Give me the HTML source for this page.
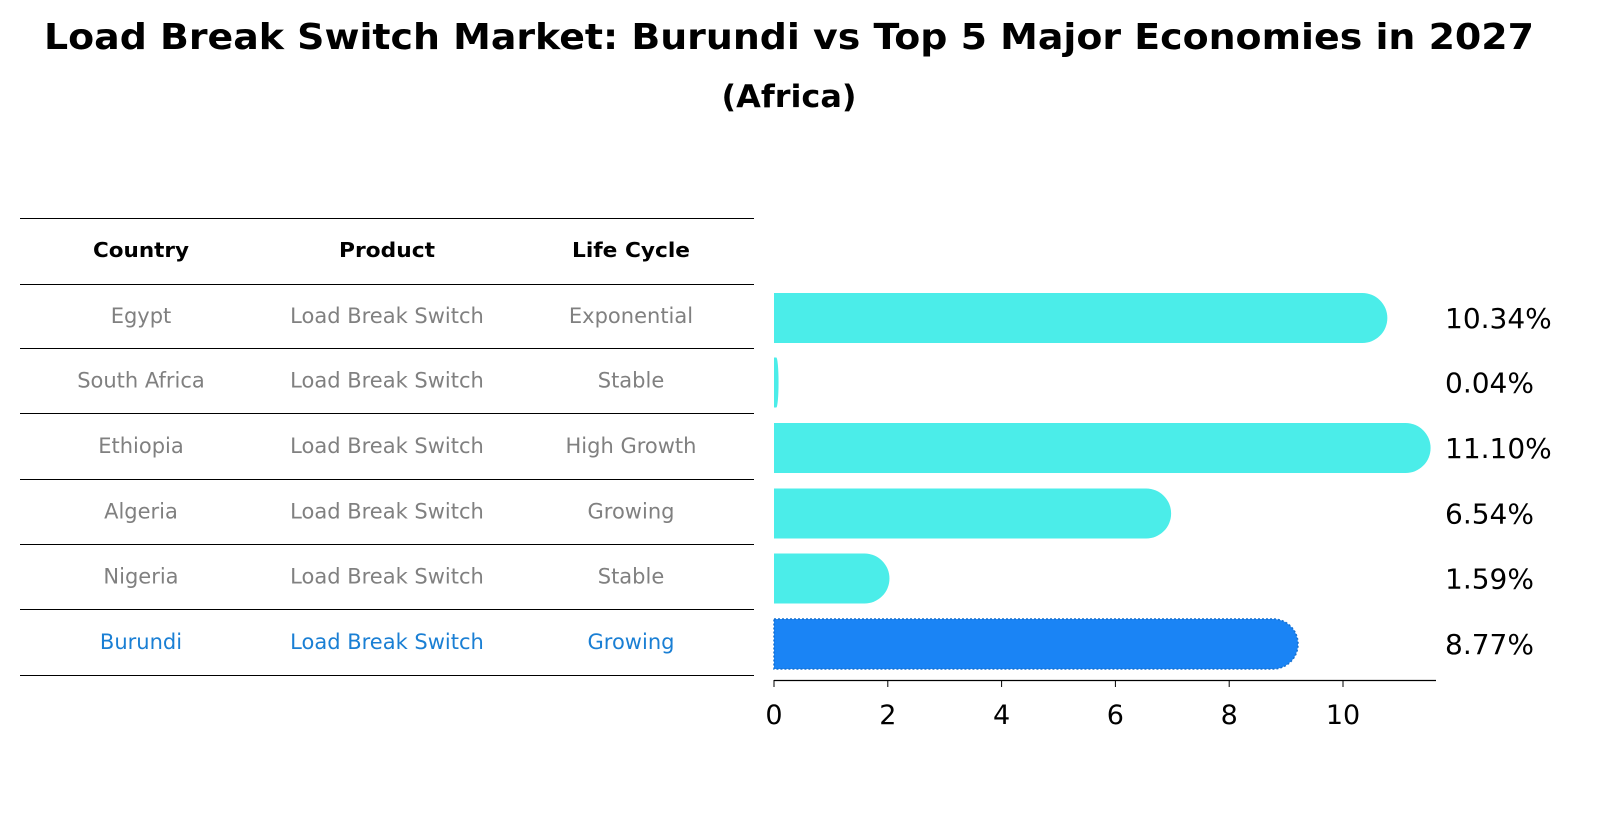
<!DOCTYPE html>
<html><head><meta charset="utf-8"><style>
html,body{margin:0;padding:0;background:#fff;overflow:hidden;width:1604px;height:823px;}
svg{display:block;position:absolute;left:0;top:0;font-family:"DejaVu Sans","Liberation Sans",sans-serif;}
</style></head><body>
<svg id="chart" width="1604" height="823" viewBox="0 0 1604 823">
<text x="789" y="49" text-anchor="middle" font-size="36" font-weight="bold" textLength="1490" lengthAdjust="spacingAndGlyphs">Load Break Switch Market: Burundi vs Top 5 Major Economies in 2027</text>
<text x="789" y="107" text-anchor="middle" font-size="31" font-weight="bold" textLength="135" lengthAdjust="spacingAndGlyphs">(Africa)</text>
<g id="table"></g>
<g id="bars"></g>
</svg>
<script>
const countries=["Egypt","South Africa","Ethiopia","Algeria","Nigeria","Burundi"];
const products=["Load Break Switch","Load Break Switch","Load Break Switch","Load Break Switch","Load Break Switch","Load Break Switch"];
const lifeCycles=["Exponential","Stable","High Growth","Growing","Stable","Growing"];
const values=[10.34,0.04,11.10,6.54,1.59,8.77];
const valueLabels=["10.34%","0.04%","11.10%","6.54%","1.59%","8.77%"];
const ticks=[0,2,4,6,8,10];

const NS="http://www.w3.org/2000/svg";
function mk(tag,attrs,parent,text){const e=document.createElementNS(NS,tag);for(const k in attrs)e.setAttribute(k,attrs[k]);if(text!==undefined)e.textContent=text;parent.appendChild(e);return e;}
const table=document.getElementById('table');
const bars=document.getElementById('bars');
const lineYs=[218,284,348,413,479,544,609,675];
const colX=[141,387,631];
lineYs.forEach((y,i)=>{const l=mk('line',{x1:20,x2:754,y1:y+0.5,y2:y+0.5,stroke:'#000','stroke-width':1},table);

});
["Country","Product","Life Cycle"].forEach((h,i)=>{const t=mk('text',{x:colX[i],y:257,'text-anchor':'middle','font-size':20,'font-weight':'bold',textLength:[96,96,118][i],lengthAdjust:'spacingAndGlyphs'},table,h);

});
const rowY=i=>(lineYs[i+1]+lineYs[i+2])/2;
countries.forEach((c,i)=>{const col=i===countries.length-1?'#1a7fd4':'#808080';
[c,products[i],lifeCycles[i]].forEach((v,j)=>{const t=mk('text',{x:colX[j],y:rowY(i)+7,'text-anchor':'middle','font-size':21,fill:col},table,v);

});});
const x0=774,pxPer=56.9;
const xs=v=>x0+v*pxPer;
const ax=mk('line',{x1:774,x2:1436,y1:680.5,y2:680.5,stroke:'#000','stroke-width':1.3},bars);


ticks.forEach(t=>{const tl=mk('line',{x1:xs(t),x2:xs(t),y1:680,y2:687,stroke:'#000'},bars);


const tx=mk('text',{x:xs(t),y:724,'text-anchor':'middle','font-size':27},bars,String(t));

});
values.forEach((v,i)=>{const cy=rowY(i)+2;const h=50;const w=xs(v)-x0;const r=Math.min(25,w);
const end=xs(v)+r;const top=cy-h/2;
const d=`M${x0},${top} L${end-r},${top} A${r},${h/2} 0 0 1 ${end-r},${top+h} L${x0},${top+h} Z`;
const last=i===values.length-1;
const p=mk('path',{d:d,fill:last?'#1a84f5':'#4bede9',stroke:last?'#1670d0':'none','stroke-dasharray':last?'2,2':'','stroke-width':last?1.5:0},bars);


const lt=mk('text',{x:1445,y:cy+10,'font-size':28},bars,valueLabels[i]);

});
</script>
</body></html>
